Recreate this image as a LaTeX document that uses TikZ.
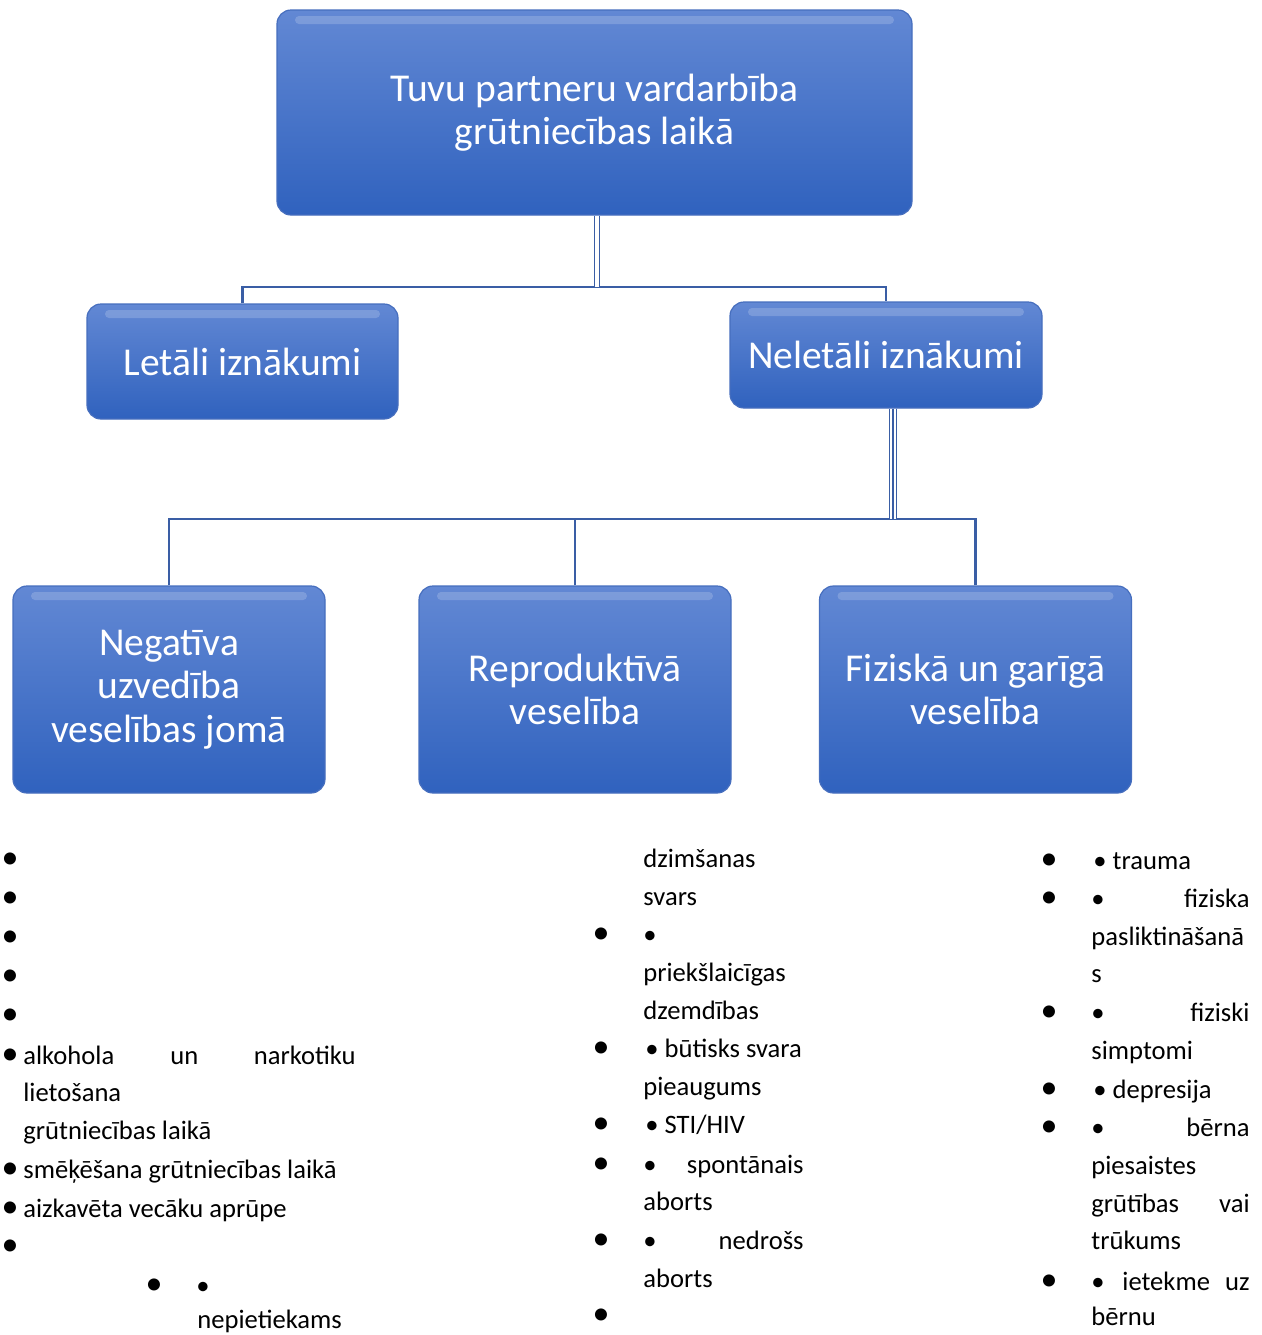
\documentclass[tikz,border=0pt]{standalone}
\usepackage{fontspec}
\setmainfont{Carlito}
\definecolor{boxtop}{RGB}{98,136,212}
\definecolor{boxbot}{RGB}{48,98,190}
\definecolor{boxedge}{RGB}{70,110,190}
\definecolor{linec}{RGB}{58,94,165}
\newcommand\boxfont{\fontsize{19.75}{21.8}\selectfont}
\newcommand\bodyfont{\fontsize{13.3}{19}\selectfont}
\newcommand\bigbul{\fontsize{17}{19}\selectfont}
\tikzset{
  bluebox/.style={rounded corners=7pt, top color=boxtop, bottom color=boxbot,
    draw=boxedge, line width=0.6pt, text=white, font=\boxfont, align=center, inner sep=0pt,
    path picture={\fill[white,opacity=0.18,rounded corners=2pt]
      ([xshift=9pt,yshift=-3pt]path picture bounding box.north west) rectangle
      ([xshift=-9pt,yshift=-7pt]path picture bounding box.north east);}},
  conn/.style={draw=linec, line width=1.1pt},
  dconn/.style={draw=linec, line width=0.7pt, double=white, double distance=1.6pt},
  tconn/.style={draw=linec, line width=0.6pt, double=white, double distance=2.6pt},
  txt/.style={anchor=base west, font=\bodyfont, inner sep=0pt, text=black},
  txtr/.style={anchor=base east, font=\bodyfont, inner sep=0pt, text=black},
  obul/.style={anchor=base, font=\bigbul, inner sep=0pt, text=black},
  ibul/.style={anchor=base, font=\bodyfont, inner sep=0pt, text=black},
}
\begin{document}
\begin{tikzpicture}[x=0.5pt,y=-0.5pt]
\useasboundingbox[fill=white] (0,0) rectangle (1262,1335);

% boxes
\node[bluebox, minimum width=317.5pt, minimum height=102.5pt] (top) at (594.5,112.5)
  {Tuvu partneru vardarbība\\grūtniecības laikā};
\node[bluebox, minimum width=155.5pt, minimum height=57.5pt] (let) at (242.5,361.5)
  {Letāli iznākumi};
\node[bluebox, minimum width=156pt, minimum height=53pt] (nel) at (886,355)
  {Neletāli iznākumi};
\node[bluebox, minimum width=156pt, minimum height=103.5pt] (n1) at (169,689.5)
  {Negatīva\\uzvedība\\veselības jomā};
\node[bluebox, minimum width=156pt, minimum height=103.5pt] (n2) at (575,689.5)
  {Reproduktīvā\\veselība};
\node[bluebox, minimum width=156pt, minimum height=103.5pt] (n3) at (975.5,689.5)
  {Fiziskā un garīgā\\veselība};

% connectors
\coordinate (b1) at (597,287);
\coordinate (b2) at (893,519);
\draw[conn] (let.north) |- (b1) -| (nel.north);
\draw[dconn] (top.south -| b1) -- (b1);
\draw[conn] (n1.north) |- (b2);
\draw[conn] (n2.north) -- (n2.north |- b2);
\draw[conn] (n3.north) |- (b2);
\draw[tconn] (nel.south -| b2) -- (b2);
\draw[draw=linec, line width=0.6pt] (nel.south -| b2) -- (b2);

\begin{scope}[yshift=-1pt]
% left column
\node[obul] (la1) at (10,866) {•};
\node[obul] (la2) at (10,905) {•};
\node[obul] (la3) at (10,944) {•};
\node[obul] (la4) at (10,983) {•};
\node[obul] (la5) at (10,1022) {•};
\node[obul] (la6) at (10,1062) {•};
\node[txt] (lb1) at (23,1062) {alkohola};
\node[txt] (lb2) at (170,1062) {un};
\node[txtr] (lb3) at (356,1062) {narkotiku};
\node[txt] (lb4) at (23,1099) {lietošana};
\node[txt] (lb5) at (23,1137) {grūtniecības laikā};
\node[obul] (la7) at (10,1176) {•};
\node[txt] (lb6) at (23,1176) {smēķēšana grūtniecības laikā};
\node[obul] (la8) at (10,1215) {•};
\node[txt] (lb7) at (23,1215) {aizkavēta vecāku aprūpe};
\node[obul] (la9) at (10,1253) {•};
\node[obul] (la10) at (154,1292) {•};
\node[ibul] (la11) at (203,1292) {•};
\node[txt] (lb8) at (197,1326) {nepietiekams};

% middle column
\node[txt] (m1) at (643,865) {dzimšanas};
\node[txt] (m2) at (643,903) {svars};
\node[obul] (mb1) at (601,941) {•};
\node[ibul] (mc1) at (650,941) {•};
\node[txt] (m3) at (643,979) {priekšlaicīgas};
\node[txt] (m4) at (643,1017) {dzemdības};
\node[obul] (mb2) at (601,1055) {•};
\node[txt] (m5) at (645,1055) {• būtisks svara};
\node[txt] (m6) at (643,1093) {pieaugums};
\node[obul] (mb3) at (601,1131) {•};
\node[txt] (m7) at (645,1131) {• STI/HIV};
\node[obul] (mb4) at (601,1171) {•};
\node[ibul] (mc2) at (650,1171) {•};
\node[txtr] (m8) at (804,1171) {spontānais};
\node[txt] (m9) at (643,1208) {aborts};
\node[obul] (mb5) at (601,1247) {•};
\node[ibul] (mc3) at (650,1247) {•};
\node[txtr] (m10) at (804,1247) {nedrošs};
\node[txt] (m11) at (643,1285) {aborts};
\node[obul] (mb6) at (601,1322) {•};

% right column
\node[obul] (rb1) at (1049,867) {•};
\node[txt] (r1) at (1093,867) {• trauma};
\node[obul] (rb2) at (1049,905) {•};
\node[ibul] (rc1) at (1098,905) {•};
\node[txtr] (r2) at (1250,905) {fiziska};
\node[txt] (r3) at (1091,943) {pasliktināšanā};
\node[txt] (r4) at (1091,980) {s};
\node[obul] (rb3) at (1049,1019) {•};
\node[ibul] (rc2) at (1098,1019) {•};
\node[txtr] (r5) at (1250,1019) {fiziski};
\node[txt] (r6) at (1091,1057) {simptomi};
\node[obul] (rb4) at (1049,1096) {•};
\node[txt] (r7) at (1093,1096) {• depresija};
\node[obul] (rb5) at (1049,1134) {•};
\node[ibul] (rc3) at (1098,1134) {•};
\node[txtr] (r8) at (1250,1134) {bērna};
\node[txt] (r9) at (1091,1172) {piesaistes};
\node[txt] (r10) at (1091,1210) {grūtības};
\node[txtr] (r11) at (1250,1210) {vai};
\node[txt] (r12) at (1091,1247) {trūkums};
\node[obul] (rb6) at (1049,1288) {•};
\node[ibul] (rc4) at (1098,1288) {•};
\node[txt] (r13) at (1122,1288) {ietekme};
\node[txtr] (r14) at (1250,1288) {uz};
\node[txt] (r15) at (1091,1323) {bērnu};
\end{scope}
\end{tikzpicture}
\end{document}
